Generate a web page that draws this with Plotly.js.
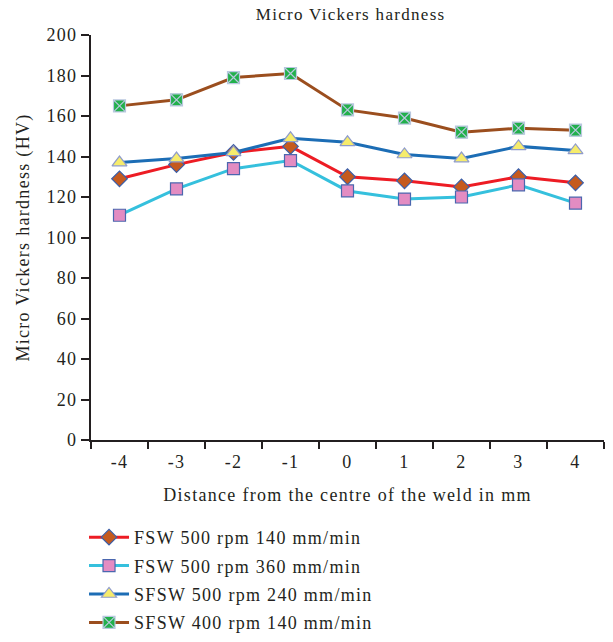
<!DOCTYPE html>
<html>
<head>
<meta charset="utf-8">
<script src="https://cdn.plot.ly/plotly-3.0.1.min.js"></script>
<style>
html,body{margin:0;padding:0;background:#fff;}
#chart{width:613px;height:642px;}
svg text{letter-spacing:1.3px;}
</style>
</head>
<body>
<div id="chart"></div>
<script>
const distances = ["-4", "-3", "-2", "-1", "0", "1", "2", "3", "4"];
const fsw500_140 = [129, 136, 142, 145, 130, 128, 125, 130, 127];
const fsw500_360 = [111, 124, 134, 138, 123, 119, 120, 126, 117];
const sfsw500_240 = [137, 139, 142, 149, 147, 141, 139, 145, 143];
const sfsw400_140 = [165, 168, 179, 181, 163, 159, 152, 154, 153];
const seriesNames = [
  "FSW 500 rpm 140 mm/min",
  "FSW 500 rpm 360 mm/min",
  "SFSW 500 rpm 240 mm/min",
  "SFSW 400 rpm 140 mm/min"
];
const yTicks = [0, 20, 40, 60, 80, 100, 120, 140, 160, 180, 200];

const serif = "Liberation Serif, Times New Roman, serif";
const ink = "#231F20";

function trace(y, name, lineColor, symbol, fill, outline, size, group) {
  return {
    x: distances, y: y, name: name, type: "scatter", mode: "lines+markers",
    line: {color: lineColor, width: 3},
    marker: {symbol: symbol, color: fill, size: size, line: {color: outline, width: 1.2}},
    legendgroup: group
  };
}

const data = [
  trace(fsw500_140, seriesNames[0], "#ED1C24", "diamond", "#C55A1E", "#3B5EA8", 12, "a"),
  trace(fsw500_360, seriesNames[1], "#35C0DD", "square", "#E38CC2", "#4B67AF", 12, "b"),
  trace(sfsw500_240, seriesNames[2], "#1C6DB5", "triangle-up", "#F6EC6C", "#8F9CCB", 13, "c"),
  trace(sfsw400_140, seriesNames[3], "#9B4E1E", "square-x", "#22B04B", "#B9C8DF", 12, "d")
];

const layout = {
  width: 613, height: 642,
  margin: {l: 91, r: 9, t: 35, b: 202},
  paper_bgcolor: "#fff", plot_bgcolor: "#fff",
  font: {family: serif, color: ink, size: 18},
  title: {text: "Micro Vickers hardness", font: {size: 17, family: serif, color: ink}, x: 0.572, xanchor: "center", y: 0.978, yanchor: "middle"},
  showlegend: true,
  legend: {x: -0.0136, xanchor: "left", xref: "paper", y: 0.1916, yref: "container", yanchor: "top", orientation: "v",
           traceorder: "grouped", tracegroupgap: 2, itemwidth: 40,
           font: {size: 18, family: serif, color: ink},
           bgcolor: "rgba(0,0,0,0)"},
  xaxis: {
    type: "category", range: [-0.5, 8.5], tickson: "boundaries",
    showline: true, linecolor: ink, linewidth: 2,
    ticks: "outside", ticklen: 7, tickwidth: 2, tickcolor: ink,
    ticklabelstandoff: 4,
    showgrid: false, zeroline: false, automargin: false,
    tickfont: {size: 18, family: serif, color: ink},
    title: {text: "Distance from the centre of the weld in mm", font: {size: 18, family: serif, color: ink}, standoff: 18}
  },
  yaxis: {
    range: [0, 200], tickvals: yTicks, ticktext: yTicks.map(String),
    showline: true, linecolor: ink, linewidth: 2,
    ticks: "outside", ticklen: 8, tickwidth: 2, tickcolor: ink,
    showgrid: false, zeroline: false, automargin: false,
    tickfont: {size: 18, family: serif, color: ink},
    title: {text: "Micro Vickers hardness (HV)", font: {size: 18, family: serif, color: ink}, standoff: 12}
  }
};

Plotly.newPlot("chart", data, layout, {displayModeBar: false, staticPlot: true});
</script>
</body>
</html>
